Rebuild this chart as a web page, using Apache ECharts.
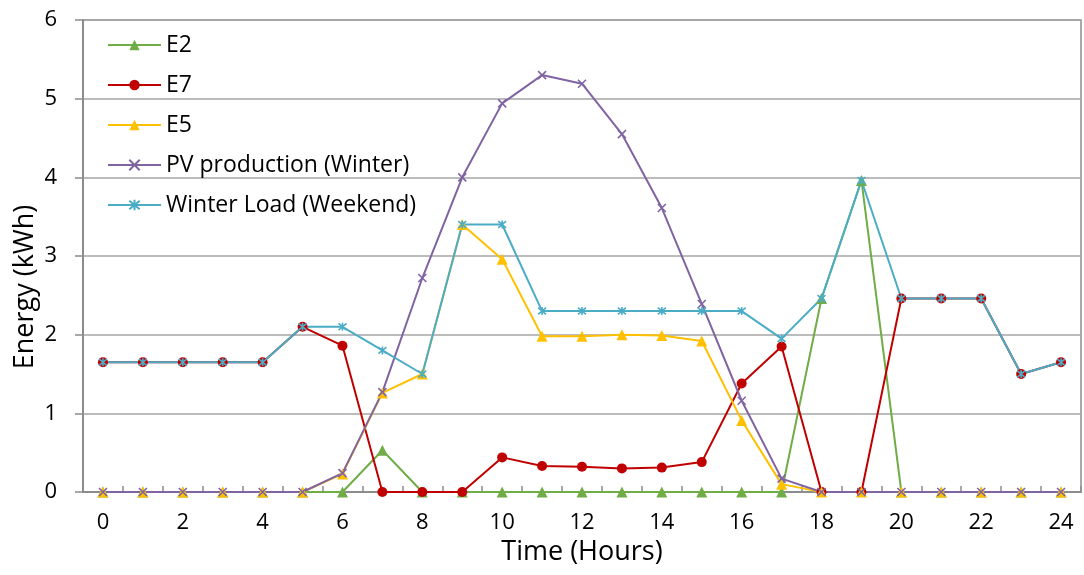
<!DOCTYPE html>
<html>
<head>
<meta charset="utf-8">
<script src="https://cdn.jsdelivr.net/npm/echarts@6/dist/echarts.min.js"></script>
<style>
  html, body { margin: 0; padding: 0; background: #fff; }
  #chart { width: 1084px; height: 575px; }
</style>
</head>
<body>
<div id="chart"></div>
<script>
// Hour of day (category axis)
const hours = ['0','1','2','3','4','5','6','7','8','9','10','11','12','13','14','15','16','17','18','19','20','21','22','23','24'];

// Energy per hour, kWh
const e2   = [0,0,0,0,0,0,0,0.53,0,0,0,0,0,0,0,0,0,0,2.46,3.96,0,0,0,0,0];
const e7   = [1.65,1.65,1.65,1.65,1.65,2.1,1.86,0,0,0,0.44,0.33,0.32,0.30,0.31,0.38,1.38,1.85,0,0,2.46,2.46,2.46,1.5,1.65];
const e5   = [0,0,0,0,0,0,0.23,1.26,1.5,3.4,2.96,1.98,1.98,2.0,1.99,1.92,0.91,0.1,0,0,0,0,0,0,0];
const pvWinter = [0,0,0,0,0,0,0.24,1.27,2.72,4.0,4.94,5.3,5.19,4.55,3.61,2.39,1.16,0.17,0,0,0,0,0,0,0];
const loadWeekend = [1.65,1.65,1.65,1.65,1.65,2.1,2.1,1.8,1.5,3.4,3.4,2.3,2.3,2.3,2.3,2.3,2.3,1.95,2.46,3.96,2.46,2.46,2.46,1.5,1.65];

const FONT = '"Open Sans", Lato, sans-serif';
const GRAY = '#8c8c8c';

const crossPath = 'path://M0,0L10,10M10,0L0,10';
const starPath  = 'path://M0,0L10,10M10,0L0,10M5,-1L5,11';

function lineSeries(name, data, color, symbol, size, stroke) {
  return {
    name: name,
    type: 'line',
    data: data,
    symbol: symbol,
    symbolSize: size,
    showAllSymbol: true,
    lineStyle: { color: color, width: 2 },
    itemStyle: stroke
      ? { color: color, borderColor: color, borderWidth: 1.6 }
      : { color: color, borderWidth: 0 },
    emphasis: { disabled: true },
    z: 2
  };
}

const chart = echarts.init(document.getElementById('chart'), null, { renderer: 'canvas' });

chart.setOption({
  animation: false,
  backgroundColor: '#ffffff',
  grid: {
    left: 83, right: 3, top: 20, bottom: 83,
    show: true, borderColor: GRAY, borderWidth: 1.5, backgroundColor: 'transparent'
  },
  legend: {
    orient: 'vertical',
    left: 102,
    top: 28,
    itemWidth: 53,
    itemHeight: 13,
    itemGap: 16,
    textStyle: { fontFamily: FONT, fontSize: 23, color: '#000', lineHeight: 24 },
    data: ['E2', 'E7', 'E5', 'PV production (Winter)', 'Winter Load (Weekend)']
  },
  xAxis: {
    type: 'category',
    data: hours,
    boundaryGap: true,
    name: 'Time (Hours)',
    nameLocation: 'middle',
    nameGap: 47,
    nameTextStyle: { fontFamily: FONT, fontSize: 27, color: '#000' },
    axisLine: { lineStyle: { color: GRAY, width: 2 } },
    axisTick: { show: true, inside: true, length: 6, interval: 0, alignWithLabel: false, lineStyle: { color: GRAY, width: 1.5 } },
    axisLabel: { interval: 1, margin: 20, fontFamily: FONT, fontSize: 22, color: '#000' },
    splitLine: { show: false }
  },
  yAxis: {
    type: 'value',
    min: 0, max: 6, interval: 1,
    axisLine: { show: true, lineStyle: { color: GRAY, width: 2 } },
    axisTick: { show: true, inside: false, length: 8, lineStyle: { color: GRAY, width: 1.5 } },
    axisLabel: { margin: 26, fontFamily: FONT, fontSize: 22, color: '#000' },
    splitLine: { show: true, lineStyle: { color: '#a6a6a6', width: 1.5 } }
  },
  graphic: [{
    type: 'text',
    x: 25, y: 287,
    rotation: Math.PI / 2,
    style: {
      text: 'Energy (kWh)',
      fontFamily: FONT, fontSize: 27, fill: '#000',
      textAlign: 'center', textVerticalAlign: 'middle'
    }
  }],
  series: [
    lineSeries('E2', e2, '#70ad47', 'triangle', 11, false),
    lineSeries('E7', e7, '#c00000', 'circle', 10, false),
    lineSeries('E5', e5, '#ffc000', 'triangle', 11, false),
    lineSeries('PV production (Winter)', pvWinter, '#8064a2', crossPath, 8, true),
    lineSeries('Winter Load (Weekend)', loadWeekend, '#4bacc6', starPath, 8, true)
  ]
});
</script>
</body>
</html>
